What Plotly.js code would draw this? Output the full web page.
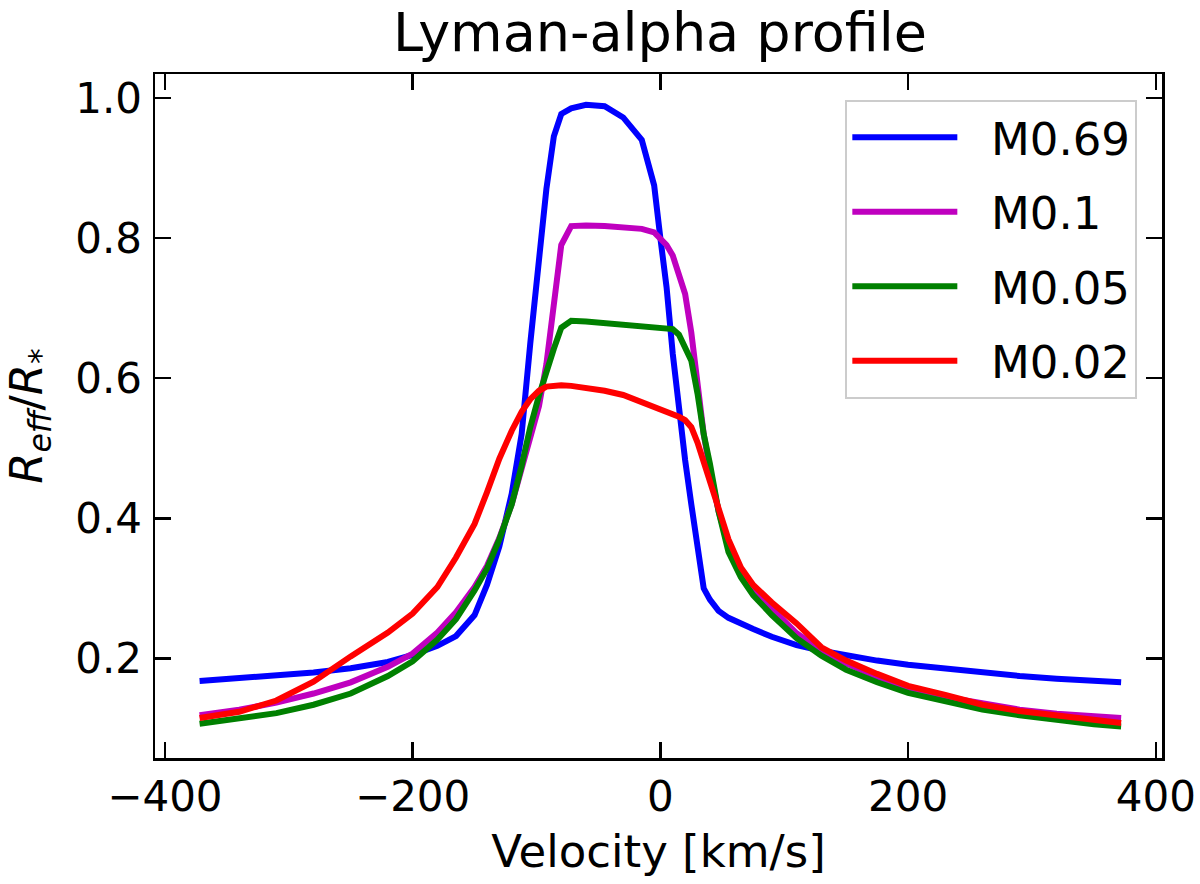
<!DOCTYPE html>
<html>
<head>
<meta charset="utf-8">
<script src="https://cdn.plot.ly/plotly-3.0.1.min.js"></script>
<style>
  html, body { margin: 0; padding: 0; background: #fff; }
  #plot { width: 1200px; height: 884px; }
</style>
</head>
<body>
<div id="plot"></div>
<script>
// velocity grid (km/s), shared by all profiles
var velocity = [-372, -340, -310, -280, -250, -220, -200, -180, -165, -150,
    -140, -130, -120, -112, -105, -98, -92, -86, -80, -72,
    -60, -45, -30, -15, -5, 0, 5, 10, 15, 20,
    25, 30, 35, 40, 47, 55, 65, 75, 90, 110,
    130, 150, 175, 200, 230, 260, 290, 320, 350, 372];

var m069 = [0.168, 0.172, 0.176, 0.180, 0.186, 0.195, 0.205, 0.218, 0.232, 0.262,
    0.305, 0.360, 0.435, 0.520, 0.650, 0.770, 0.870, 0.945, 0.977, 0.985,
    0.990, 0.988, 0.972, 0.940, 0.875, 0.800, 0.730, 0.635, 0.555, 0.483,
    0.420, 0.355, 0.300, 0.284, 0.268, 0.258, 0.249, 0.242, 0.231, 0.219,
    0.211, 0.204, 0.197, 0.191, 0.185, 0.179, 0.175, 0.171, 0.168, 0.166];

var m01 = [0.119, 0.127, 0.137, 0.150, 0.166, 0.188, 0.207, 0.237, 0.266, 0.302,
    0.332, 0.372, 0.420, 0.470, 0.512, 0.560, 0.620, 0.710, 0.790, 0.817,
    0.818, 0.817, 0.816, 0.813, 0.808, 0.800, 0.790, 0.775, 0.750, 0.720,
    0.665, 0.595, 0.520, 0.470, 0.410, 0.360, 0.325, 0.298, 0.272, 0.236,
    0.212, 0.193, 0.174, 0.158, 0.145, 0.135, 0.127, 0.121, 0.117, 0.115];

var m005 = [0.107, 0.114, 0.122, 0.134, 0.150, 0.175, 0.196, 0.227, 0.256, 0.297,
    0.328, 0.370, 0.420, 0.475, 0.530, 0.575, 0.610, 0.642, 0.672, 0.682,
    0.681, 0.679, 0.677, 0.675, 0.673, 0.672, 0.671, 0.670, 0.662, 0.645,
    0.625, 0.578, 0.520, 0.478, 0.410, 0.352, 0.316, 0.290, 0.262, 0.229,
    0.204, 0.184, 0.166, 0.151, 0.138, 0.127, 0.119, 0.112, 0.106, 0.103];

var m002 = [0.115, 0.124, 0.140, 0.167, 0.203, 0.237, 0.264, 0.302, 0.344, 0.392,
    0.437, 0.485, 0.525, 0.552, 0.570, 0.582, 0.588, 0.590, 0.590, 0.589,
    0.586, 0.582, 0.576, 0.566, 0.559, 0.556, 0.552, 0.548, 0.545, 0.540,
    0.530, 0.508, 0.480, 0.452, 0.416, 0.370, 0.330, 0.305, 0.280, 0.250,
    0.216, 0.197, 0.178, 0.161, 0.148, 0.134, 0.125, 0.118, 0.112, 0.108];

var names = ['M0.69', 'M0.1', 'M0.05', 'M0.02'];
var colors = ['#0000ff', '#bf00bf', '#008000', '#ff0000'];
var series = [m069, m01, m005, m002];

var data = [];
for (var i = 0; i < series.length; i++) {
    data.push({
        type: 'scatter',
        mode: 'lines',
        // non-breaking spaces push the label away from the handle
        name: '\u00A0\u00A0' + names[i],
        legendgroup: 'g' + i,
        x: velocity,
        y: series[i],
        line: {color: colors[i], width: 6}
    });
}

var font = 'DejaVu Sans, sans-serif';

var axisCommon = {
    showline: true,
    linecolor: '#000',
    linewidth: 2.5,
    mirror: 'ticks',
    ticks: 'inside',
    ticklen: 16,
    tickwidth: 2.5,
    tickcolor: '#000',
    showgrid: false,
    zeroline: false,
    tickfont: {family: font, size: 42, color: '#000'}
};

var layout = {
    width: 1200,
    height: 884,
    paper_bgcolor: '#fff',
    plot_bgcolor: '#fff',
    margin: {l: 155, r: 38, t: 74, b: 126},
    showlegend: true,
    title: {
        text: 'Lyman-alpha profile',
        font: {family: font, size: 54, color: '#000'},
        x: 0.55,
        xanchor: 'center',
        y: 0.985,
        yanchor: 'top'
    },
    xaxis: Object.assign({}, axisCommon, {
        range: [-408, 405],
        tick0: 0,
        dtick: 200,
        ticklabelstandoff: 0,
        title: {text: 'Velocity [km/s]', font: {family: font, size: 45, color: '#000'}, standoff: 16}
    }),
    yaxis: Object.assign({}, axisCommon, {
        range: [0.058, 1.034],
        tick0: 0,
        dtick: 0.2,
        tickformat: '.1f',
        ticklabelstandoff: 2,
        title: {text: '<i>R</i><sub><i>eff</i></sub>/<i>R</i><sub>*</sub>', font: {family: font, size: 45, color: '#000'}, standoff: 22}
    }),
    legend: {
        x: 0.9755,
        xanchor: 'right',
        y: 0.9627,
        yanchor: 'top',
        bgcolor: 'rgba(255,255,255,0.8)',
        bordercolor: '#cccccc',
        borderwidth: 2,
        font: {family: font, size: 45, color: '#000'},
        itemwidth: 105,
        tracegroupgap: 13
    }
};

Plotly.newPlot('plot', data, layout, {displayModeBar: false, staticPlot: true});
</script>
</body>
</html>
